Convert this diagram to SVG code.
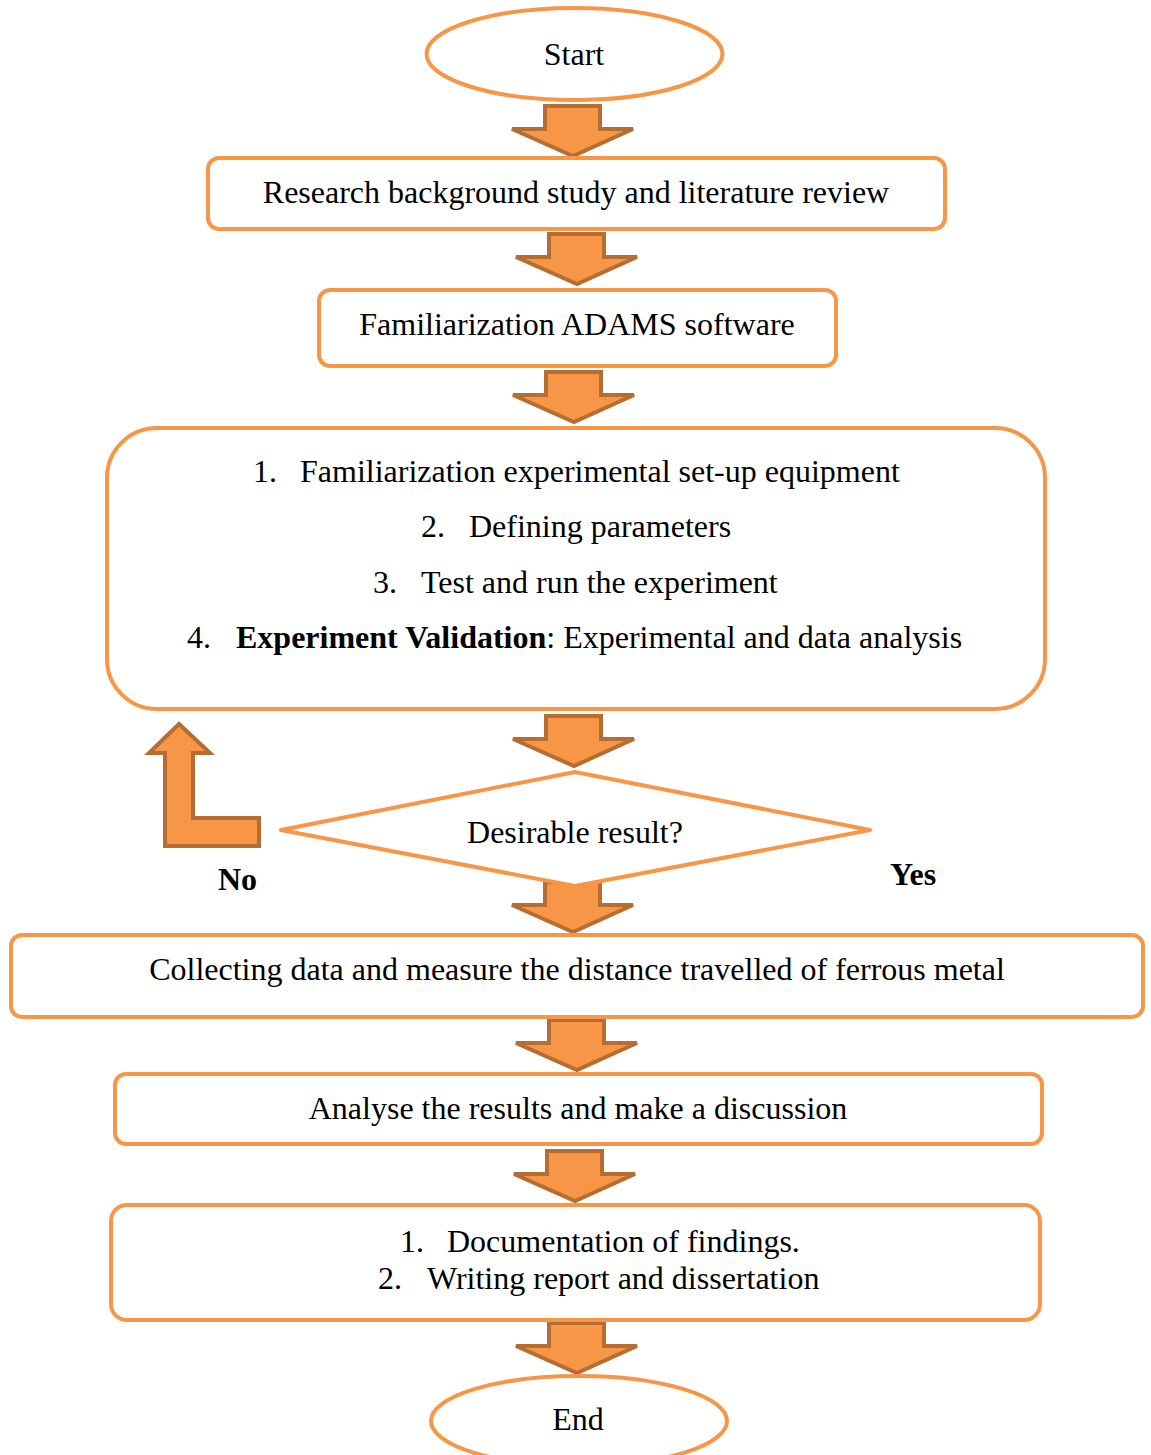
<svg xmlns="http://www.w3.org/2000/svg" width="1151" height="1455" viewBox="0 0 1151 1455">
<style>
.n{fill:#fff;stroke:#F79646;stroke-width:4}
.a{fill:#F79646;stroke:#B66D31;stroke-width:4;stroke-linejoin:miter}
text{font-family:"Liberation Serif","Times New Roman",serif;font-size:32px;fill:#000}
.c{text-anchor:middle}
.b{font-weight:bold}
</style>
<defs>
<path id="dn" class="a" d="M-28,0 H27 V23 H60 L0,50 L-61,23 H-28 Z"/>
</defs>
<rect width="1151" height="1455" fill="#fff"/>
<g id="connectors">
<use href="#dn" x="573" y="106"/>
<use href="#dn" x="577" y="234"/>
<use href="#dn" x="574" y="372"/>
<use href="#dn" x="574" y="716"/>
<use href="#dn" x="573" y="882"/>
<use href="#dn" x="577" y="1020"/>
<use href="#dn" x="575" y="1151"/>
<use href="#dn" x="577" y="1323"/>
<path class="a" d="M179,724 L210,753 H193 V818 H259 V846 H165 V753 H149 Z"/>
</g>
<g id="start"><ellipse class="n" cx="574.5" cy="54" rx="148" ry="46"/><text class="c" x="574" y="65">Start</text></g>
<g id="research"><rect class="n" x="208" y="158" width="737" height="71" rx="11"/><text class="c" x="576" y="203">Research background study and literature review</text></g>
<g id="adams"><rect class="n" x="319" y="290" width="517" height="76" rx="11"/><text class="c" x="577" y="335">Familiarization ADAMS software</text></g>
<g id="experiment"><rect class="n" x="107" y="428" width="938" height="281" rx="50"/>
<text x="253" y="482">1.</text><text x="300" y="482">Familiarization experimental set-up equipment</text>
<text x="421" y="537">2.</text><text x="469" y="537">Defining parameters</text>
<text x="373" y="593">3.</text><text x="421" y="593">Test and run the experiment</text>
<text x="187" y="648">4.</text><text x="236" y="648"><tspan class="b">Experiment Validation</tspan>: Experimental and data analysis</text>
</g>
<g id="decision"><path class="n" d="M575,772 L870,830 L575,886 L281,830 Z" stroke-linejoin="round"/><text class="c" x="575" y="843">Desirable result?</text></g>
<g id="no"><text class="b" x="218" y="890">No</text></g>
<g id="yes"><text class="b" x="890" y="885">Yes</text></g>
<g id="collect"><rect class="n" x="11" y="935" width="1132" height="82" rx="11"/><text class="c" x="577" y="980">Collecting data and measure the distance travelled of ferrous metal</text></g>
<g id="analyse"><rect class="n" x="115" y="1074" width="927" height="70" rx="11"/><text class="c" x="578" y="1119">Analyse the results and make a discussion</text></g>
<g id="document"><rect class="n" x="111" y="1205" width="929" height="115" rx="16"/>
<text x="400" y="1252">1.</text><text x="447" y="1252">Documentation of findings.</text>
<text x="378" y="1289">2.</text><text x="427" y="1289">Writing report and dissertation</text>
</g>
<g id="end"><ellipse class="n" cx="579" cy="1421" rx="148" ry="45"/><text class="c" x="578" y="1430">End</text></g>
</svg>
